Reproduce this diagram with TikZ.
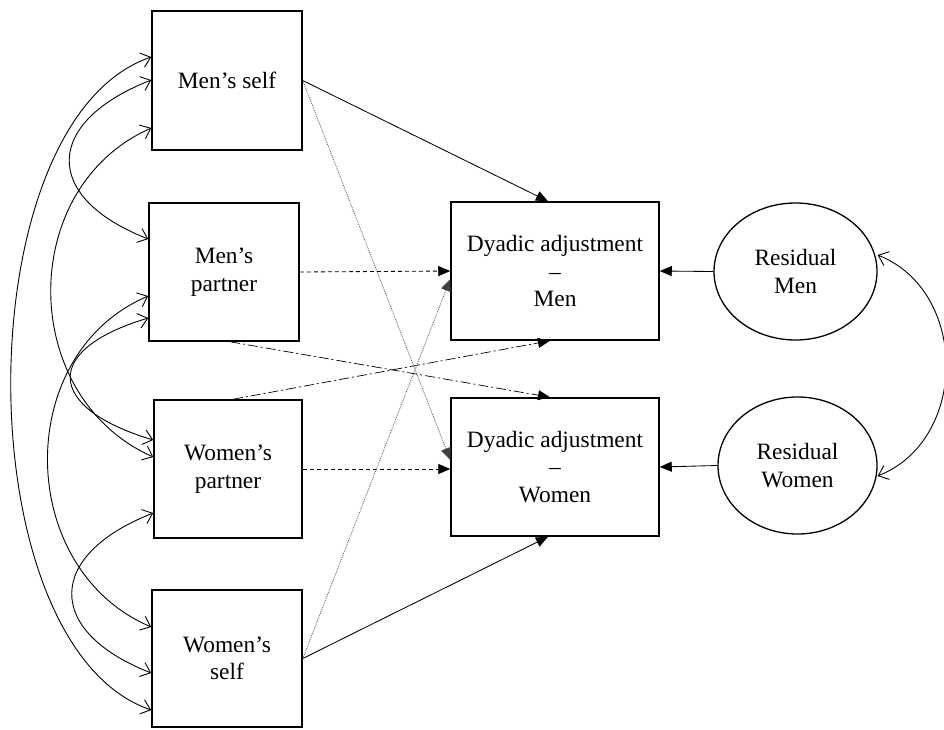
\documentclass[tikz,border=0pt]{standalone}
\usepackage{fontspec}
\setmainfont{Liberation Serif}
\usetikzlibrary{arrows.meta,shapes.geometric}
\begin{document}
\begin{tikzpicture}[x=1pt,y=-1pt,
  txt/.style={align=center, inner sep=0pt, font=\fontsize{23.4}{27.5}\selectfont},
  box/.style={txt, draw, line width=1.5pt},
  oval/.style={txt, draw, ellipse, line width=1.3pt},
  reg/.style={-{Triangle[length=12pt,width=10pt]}, line width=0.85pt},
  dsh/.style={reg, dash pattern=on 4pt off 3pt},
  dotl/.style={reg, line width=0.6pt, dash pattern=on 1pt off 1pt, color=black!75},
  dshdot/.style={reg, line width=0.7pt, dash pattern=on 10pt off 3pt on 2pt off 3pt},
  cov/.style={{Straight Barb[length=9pt,width=15pt]}-{Straight Barb[length=9pt,width=15pt]}, line width=0.9pt}
]
\fill[white] (0,0) rectangle (944,729);
\useasboundingbox (0,0) rectangle (944,729);

% observed variables
\node[box, minimum width=150pt, minimum height=139pt] (ms) at (227,80.5) {Men’s self};
\node[box, minimum width=150pt, minimum height=138pt] (mp) at (224,272) {Men’s\\partner};
\node[box, minimum width=148pt, minimum height=138pt] (wp) at (228,469) {Women’s\\partner};
\node[box, minimum width=150pt, minimum height=137pt] (ws) at (227,658.5) {Women’s\\self};

% outcomes
\node[box, minimum width=208pt, minimum height=138pt] (dm) at (555,271) {Dyadic adjustment\\–\\Men};
\node[box, minimum width=208pt, minimum height=138pt] (dw) at (555,467) {Dyadic adjustment\\–\\Women};

% residuals
\node[oval, minimum width=163pt, minimum height=137pt] (rm) at (795.5,271.5) {Residual\\Men};
\node[oval, minimum width=159pt, minimum height=137pt] (rw) at (797.5,465.5) {Residual\\Women};

% paths
\draw[reg] (ms.east) -- ([xshift=-7pt]dm.north);
\draw[dotl] (ms.east) -- ([yshift=7pt]dw.west);
\draw[dsh] (mp.east) -- (dm.west);
\draw[dshdot] ([xshift=6pt]mp.south) -- ([xshift=-5pt]dw.north);
\draw[dshdot] ([xshift=5pt]wp.north) -- ([xshift=-5pt]dm.south);
\draw[dsh] (wp.east) -- (wp.east -| dw.west);
\draw[dotl] (ws.east) -- ([yshift=-8pt]dm.west);
\draw[reg] (ws.east) -- ([xshift=-7pt]dw.south);

\draw[reg] (rm.west) -- (dm.east);
\draw[reg] (rw.west) -- (dw.east);

% covariances
\draw[cov] (ms.west |- 0,57) .. controls +(-187,64) and +(-187,-64) .. (ws.west |- 0,710);
\draw[cov] (ms.west |- 0,80) .. controls +(-107,42) and +(-107,-42) .. (mp.west |- 0,239);
\draw[cov] (ms.west |- 0,128) .. controls +(-135,60) and +(-135,-60) .. (wp.west |- 0,457);
\draw[cov] (mp.west |- 0,296) .. controls +(-136,58) and +(-136,-58) .. (ws.west |- 0,627);
\draw[cov] (mp.west |- 0,318) .. controls +(-107,32) and +(-107,-32) .. (wp.west |- 0,440);
\draw[cov] (wp.west |- 0,513) .. controls +(-107,42) and +(-107,-42) .. (ws.west |- 0,673);
\draw[cov] (rm.east |- 0,255) .. controls +(91,36) and +(91,-36) .. (rw.east |- 0,476);
\end{tikzpicture}
\end{document}
